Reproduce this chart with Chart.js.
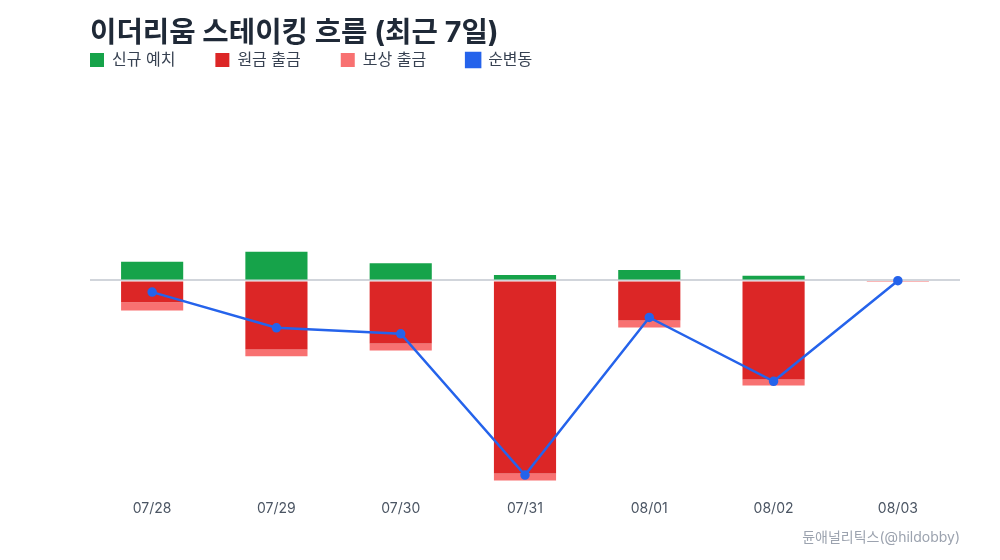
<!DOCTYPE html>
<html lang="ko">
<head>
<meta charset="utf-8">
<title>이더리움 스테이킹 흐름</title>
<script src="https://cdn.jsdelivr.net/npm/chart.js@4/dist/chart.umd.min.js"></script>
<style>
  body { margin: 0; background: #fff; }
  #wrap { position: relative; width: 1000px; height: 560px; }
  #title {
    position: absolute; left: 90px; top: 18px;
    font: bold 28.7px Inter, "Noto Sans CJK KR", sans-serif;
    line-height: 28px; color: #1f2937;
  }
</style>
</head>
<body>
<div id="wrap">
  <div id="title">이더리움 스테이킹 흐름 (최근 7일)</div>
  <canvas id="myChart" width="1000" height="560"></canvas>
</div>
<script>
// 날짜 (x축)
const dates = ['07/28', '07/29', '07/30', '07/31', '08/01', '08/02', '08/03'];

// 값 (ETH, 그림에서 읽은 추정치)
const newDeposits = [18700, 28700, 17000, 5300, 10300, 4700, 0];
const principalWithdrawals = [-21700, -69000, -63000, -192700, -40000, -99000, 0];
const rewardWithdrawals = [-8300, -6700, -7000, -7000, -7000, -6000, -1500];
const netChange = [-11700, -47300, -53300, -194300, -37000, -100700, -300];

const fontFamily = 'Inter, "Noto Sans CJK KR", sans-serif';

const ctx = document.getElementById('myChart');

const myChart = new Chart(ctx, {
    type: 'bar',
    data: {
        labels: dates,
        datasets: [
            {
                label: '신규 예치',
                data: newDeposits,
                backgroundColor: '#16a34a',
                borderWidth: 0,
                stack: 'flow',
                order: 1
            },
            {
                label: '원금 출금',
                data: principalWithdrawals,
                backgroundColor: '#dc2626',
                borderWidth: 0,
                stack: 'flow',
                order: 1
            },
            {
                label: '보상 출금',
                data: rewardWithdrawals,
                backgroundColor: '#f87171',
                borderWidth: 0,
                stack: 'flow',
                order: 1
            },
            {
                type: 'line',
                label: '순변동',
                data: netChange,
                borderColor: '#2563eb',
                backgroundColor: '#2563eb',
                borderWidth: 2.5,
                pointRadius: 3.5,
                pointBackgroundColor: '#2563eb',
                tension: 0,
                stack: 'net',
                order: 0
            }
        ]
    },
    options: {
        responsive: false,
        animation: false,
        categoryPercentage: 1,
        barPercentage: 0.5,
        layout: {
            padding: { left: 50, right: 40, top: 12, bottom: 14 }
        },
        plugins: {
            title: { display: false },
            subtitle: {
                display: true,
                text: '듄애널리틱스(@hildobby)',
                position: 'bottom',
                align: 'end',
                color: '#9ca3af',
                font: { family: fontFamily, size: 14 },
                padding: { top: 2, bottom: 0 }
            },
            legend: {
                display: true,
                position: 'top',
                align: 'start',
                labels: {
                    boxWidth: 14,
                    boxHeight: 14,
                    padding: 40,
                    color: '#374151',
                    font: { family: fontFamily, size: 16 },
                    sort: (a, b) => a.datasetIndex - b.datasetIndex
                }
            },
            tooltip: { enabled: false }
        },
        scales: {
            x: {
                stacked: true,
                grid: { display: false, drawTicks: false },
                border: { display: false },
                ticks: {
                    color: '#4b5563',
                    font: { family: fontFamily, size: 14 },
                    padding: 10
                }
            },
            y: {
                stacked: true,
                min: -209600,
                max: 202000,
                border: { display: false },
                ticks: { display: false },
                grid: {
                    drawTicks: false,
                    lineWidth: 2,
                    color: '#d1d5db'
                },
                // 0 기준선만 남긴다
                afterBuildTicks: (scale) => { scale.ticks = [{ value: 0 }]; },
                afterFit: (scale) => { scale.width = 40; }
            }
        }
    }
});
</script>
</body>
</html>
